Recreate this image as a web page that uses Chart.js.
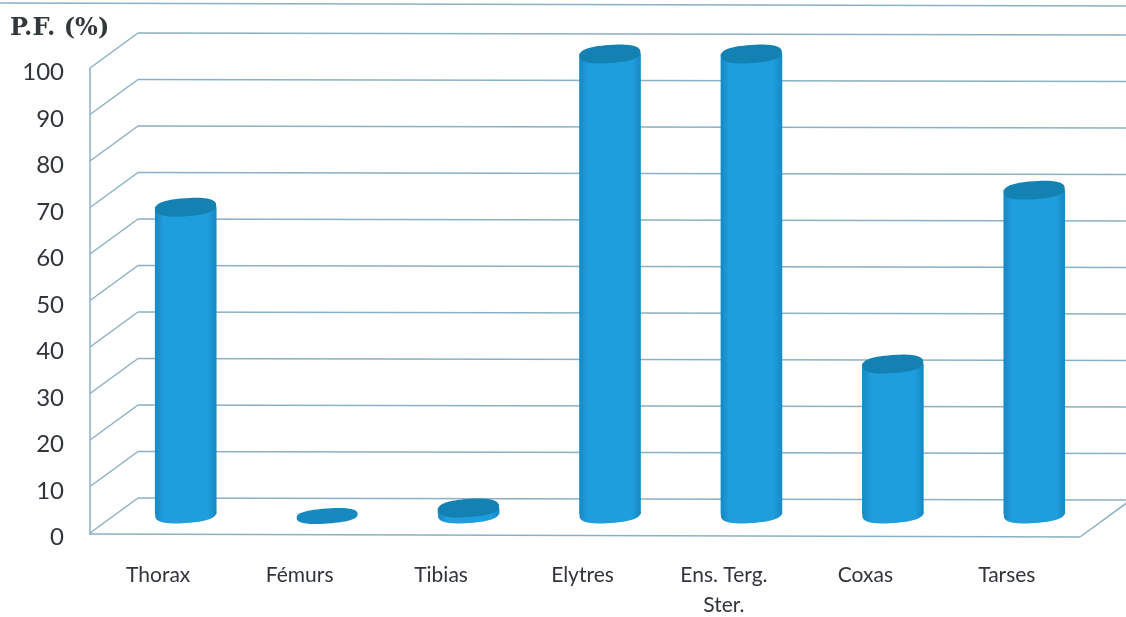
<!DOCTYPE html>
<html><head><meta charset="utf-8">
<style>html,body{margin:0;padding:0;background:#fff;overflow:hidden}
#w{position:relative;width:1126px;height:617px}
canvas{filter:blur(0.6px)}</style>
<script src="https://cdn.jsdelivr.net/npm/chart.js@4"></script>
</head><body><div id="w"><canvas id="c" width="1126" height="617"></canvas></div>
<script>
const categories = ["Thorax","Fémurs","Tibias","Elytres",["Ens. Terg.","Ster."],"Coxas","Tarses"];
const pfValues = [66.7,0,1.3,100,100,32.6,70.4];
const yTitle = "P.F. (%)";
const gridTicks = [0,10,20,30,40,50,60,70,80,90,100];

const LINE = "#8bafc4", TEXT = "#2f3539", BODY = "#1e9edd", TOP = "#1381b2";
const WALL_UP = 4.5, WALL_DX = 2.5, BACK_DX = 48, BACK_DY = -35, BAR_DX = 27.5, TILT_BACK = 2, TILT_FRONT = 3;
const RX = 30.5, RY = 9, ROT = -0.07, SUPER = 2.5;

function capPath(ctx,x,y,ry){
  const c=Math.cos(ROT), s=Math.sin(ROT);
  for(let k=0;k<=72;k++){
    const t=k/72*Math.PI*2,ct=Math.cos(t),st=Math.sin(t);
    const px=RX*Math.sign(ct)*Math.pow(Math.abs(ct),2/SUPER);
    const py=ry*Math.sign(st)*Math.pow(Math.abs(st),2/SUPER);
    const X=x+px*c-py*s, Y=y+px*s+py*c;
    k?ctx.lineTo(X,Y):ctx.moveTo(X,Y);
  }
  ctx.closePath();
}
function cap(ctx,x,y,ry,fill){
  ctx.beginPath();capPath(ctx,x,y,ry);ctx.fillStyle=fill;ctx.fill();
}
const walls = {
  id:"walls",
  beforeDatasetsDraw(chart){
    const {ctx,scales:{y},chartArea:a} = chart;
    const L=a.left+WALL_DX, R=a.right+WALL_DX;
    ctx.save();ctx.strokeStyle=LINE;ctx.lineWidth=1.5;
    const seg=(x1,y1,x2,y2)=>{ctx.beginPath();ctx.moveTo(x1,y1);ctx.lineTo(x2,y2);ctx.stroke();};
    seg(0,3,chart.width,6);
    const py=v=>y.getPixelForValue(v)-WALL_UP;
    seg(L,py(100),L,py(0)+1);
    gridTicks.forEach(v=>{
      const p=py(v);
      seg(L,p,L+BACK_DX,p+BACK_DY);
      seg(L+BACK_DX,p+BACK_DY,chart.width,p+BACK_DY+TILT_BACK);
    });
    const p0=py(0)+1;
    seg(L-1,p0,R,p0+TILT_FRONT);
    seg(R,p0+TILT_FRONT,R+BACK_DX,p0+TILT_FRONT+BACK_DY);
    ctx.restore();
  },
  beforeDatasetDraw(chart,args){
    const ctx=chart.ctx;
    ctx.save();
    args.meta.data.forEach((el,i)=>{
      if(pfValues[i]>0) cap(ctx,el.x+BAR_DX,el.base,RY,BODY);
    });
    ctx.translate(BAR_DX,0);
  },
  afterDatasetDraw(chart,args){
    const ctx=chart.ctx;
    ctx.restore();
    args.meta.data.forEach((el,i)=>{
      const flat=pfValues[i]===0, x=el.x+BAR_DX;
      if(!flat){
        const g=ctx.createLinearGradient(x-RX,0,x+RX,0);
        g.addColorStop(0,"rgba(12,90,140,.32)");g.addColorStop(.14,"rgba(12,90,140,0)");
        g.addColorStop(.86,"rgba(12,90,140,0)");g.addColorStop(1,"rgba(12,90,140,.32)");
        ctx.beginPath();capPath(ctx,x,el.base,RY);ctx.rect(x-RX,el.y,RX*2,el.base-el.y);
        ctx.fillStyle=g;ctx.fill("nonzero");
      }
      cap(ctx,x,el.y+(flat?2:0),flat?RY-1.5:RY,flat?"#1589c0":TOP);
    });
  }
};
new Chart(document.getElementById("c"),{
  type:"bar",
  data:{labels:categories,datasets:[{label:"P.F. (%)",data:pfValues,yAxisID:"y2",
    backgroundColor:BODY,barThickness:61,borderWidth:0,clip:false}]},
  plugins:[walls],
  options:{
    responsive:false,animation:false,
    layout:{padding:{left:10,right:48.5,top:0,bottom:0}},
    plugins:{
      legend:{display:false},tooltip:{enabled:false},
      title:{display:true,text:yTitle,align:"start",color:"#33383b",
        font:{family:"'DejaVu Serif'",size:24,weight:"bold"},padding:{top:14,bottom:29.7}}
    },
    scales:{
      x:{grid:{display:false,drawTicks:false},border:{display:false},
        afterFit(s){s.height=79.5;},
        ticks:{color:TEXT,font:{family:"Lato",size:21,lineHeight:1.4},padding:23.5,maxRotation:0,autoSkip:false}},
      y:{min:0,max:100,position:"left",grid:{display:false,drawTicks:false},border:{display:false},
        afterFit(s){s.width=77.5;},
        ticks:{stepSize:10,color:TEXT,font:{family:"Lato",size:24},padding:23.5}},
      y2:{display:false,min:-5.11,max:95.98}
    }
  }
});
</script></body></html>
